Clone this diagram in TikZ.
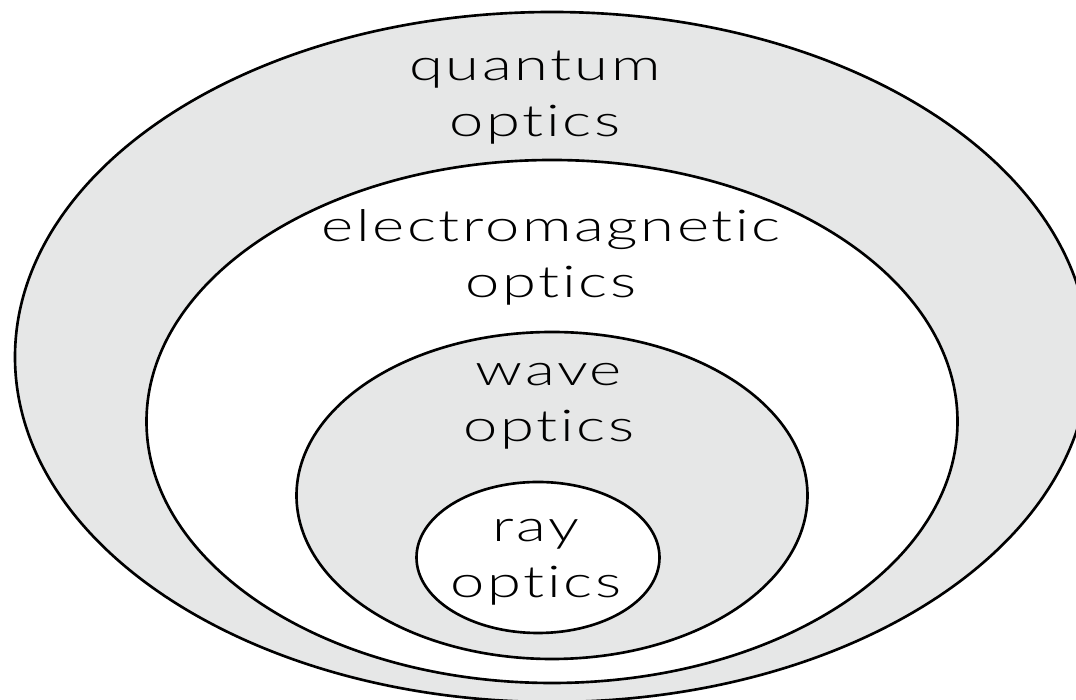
\documentclass[tikz,border=0pt]{standalone}
\usepackage{fontspec}
\setmainfont{Lato Light}[FakeStretch=1.4, LetterSpace=6, Ligatures=NoCommon]
\usepackage{tikz}
\usetikzlibrary{shapes.geometric, positioning}
\definecolor{shade}{RGB}{230,231,231}

\begin{document}
\begin{tikzpicture}[
    ring/.style={ellipse, draw, line width=1.5pt, inner sep=0pt},
    label/.style={align=center, anchor=base, inner sep=0pt, font=\fontsize{25}{32.4}\selectfont}
]
    \useasboundingbox (0,0) rectangle (21.52,14);
    \node[ring, fill=shade, minimum width=21.48cm, minimum height=13.8cm] (quantum) at (11.04,6.86) {};
    \node[ring, fill=white, minimum width=16.22cm, minimum height=10.46cm] (em) at (11.04,5.57) {};
    \node[ring, fill=shade, minimum width=10.22cm, minimum height=6.54cm] (wave) at (11.04,4.09) {};
    \node[ring, fill=white, minimum width=4.86cm, minimum height=3.02cm] (ray) at (10.76,2.85) {};

    % text sits on the baseline of its second line
    \node[label] (quantumtext) at (10.7,11.26) {quantum\\optics};
    \node[label] (emtext) at (11.02,8.04) {electromagnetic\\optics};
    \node[label] (wavetext) at (10.98,5.16) {wave\\optics};
    \node[label] (raytext) at (10.72,2.04) {ray\\optics};
\end{tikzpicture}
\end{document}
